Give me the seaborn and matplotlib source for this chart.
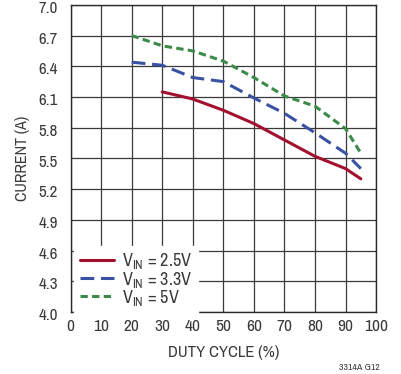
import matplotlib
matplotlib.use("Agg")
import matplotlib.pyplot as plt
import matplotlib.transforms as mtransforms
import seaborn as sns
import pandas as pd

duty_25 = [30, 40, 50, 60, 70, 80, 90, 95]
cur_25 = [6.15, 6.08, 5.97, 5.84, 5.68, 5.52, 5.40, 5.30]
duty_33 = [20, 30, 40, 50, 60, 70, 80, 90, 95]
cur_33 = [6.44, 6.41, 6.29, 6.25, 6.09, 5.94, 5.75, 5.55, 5.40]
duty_5 = [20, 30, 40, 50, 60, 70, 80, 90, 95]
cur_5 = [6.70, 6.60, 6.55, 6.45, 6.29, 6.11, 6.01, 5.79, 5.55]
series_labels = ["V$_{\\mathrm{IN}}$ = 2.5V", "V$_{\\mathrm{IN}}$ = 3.3V", "V$_{\\mathrm{IN}}$ = 5V"]
x_ticks = [0, 10, 20, 30, 40, 50, 60, 70, 80, 90, 100]
y_ticks = [4.0, 4.3, 4.6, 4.9, 5.2, 5.5, 5.8, 6.1, 6.4, 6.7, 7.0]

df = pd.concat([
    pd.DataFrame({"duty": duty_25, "current": cur_25, "series": series_labels[0]}),
    pd.DataFrame({"duty": duty_33, "current": cur_33, "series": series_labels[1]}),
    pd.DataFrame({"duty": duty_5, "current": cur_5, "series": series_labels[2]}),
])

sns.set_style("white")
font = "Archivo Narrow"
plt.rcParams["font.family"] = [font, "DejaVu Sans"]
plt.rcParams["mathtext.fontset"] = "custom"
plt.rcParams["mathtext.rm"] = font
plt.rcParams["mathtext.it"] = font
plt.rcParams["mathtext.bf"] = font

fig = plt.figure(figsize=(4.01, 3.74), dpi=100)
ax = fig.add_axes([0.176, 0.166, 0.762, 0.821])

palette = {series_labels[0]: "#a3112e", series_labels[1]: "#3a52a3", series_labels[2]: "#3b8a48"}
dashes = {series_labels[0]: "", series_labels[1]: (4.5, 2.2), series_labels[2]: (2.4, 1.4)}
sns.lineplot(data=df, x="duty", y="current", hue="series", style="series",
             palette=palette, dashes=dashes, linewidth=2.2, ax=ax, sort=False)

ax.set_xlim(0, 100)
ax.set_ylim(4.0, 7.0)
ax.set_xticks(x_ticks)
ax.set_yticks(y_ticks)
ax.set_xticklabels([str(v) for v in x_ticks])
ax.set_yticklabels([f"{v:.1f}" for v in y_ticks])
ax.grid(True, color="#3a3a3a", linewidth=0.9)
ax.set_axisbelow(True)
for s in ax.spines.values():
    s.set_color("#2a2a2a")
    s.set_linewidth(1.0)
ax.tick_params(axis="y", length=0, labelsize=12.2, colors="#3a3a3a", pad=9)
ax.tick_params(axis="x", length=0, labelsize=12.5, colors="#3a3a3a", pad=5)
offset = mtransforms.ScaledTranslation(0, -1.6 / 72, fig.dpi_scale_trans)
for lbl in ax.get_yticklabels():
    lbl.set_transform(lbl.get_transform() + offset)
ax.set_xlabel("DUTY CYCLE (%)", fontsize=12, color="#3a3a3a", labelpad=8)
ax.set_ylabel("CURRENT (A)", fontsize=11.5, color="#3a3a3a", labelpad=6)

leg = ax.legend(loc="lower left", bbox_to_anchor=(0.012, -0.004), frameon=True,
                fontsize=13, handlelength=1.9, handletextpad=0.45,
                labelspacing=-0.1, borderaxespad=0.0, borderpad=0.3)
leg.get_frame().set_facecolor("white")
leg.get_frame().set_edgecolor("white")
leg.get_frame().set_alpha(1)
leg.get_frame().set_boxstyle("square", pad=0)
for t in leg.get_texts():
    t.set_color("#3a3a3a")

fig.text(0.948, 0.005, "3314A G12", fontsize=7, ha="right", va="bottom",
         color="#3a3a3a", fontweight="bold")

fig.savefig("out.png", dpi=100)
